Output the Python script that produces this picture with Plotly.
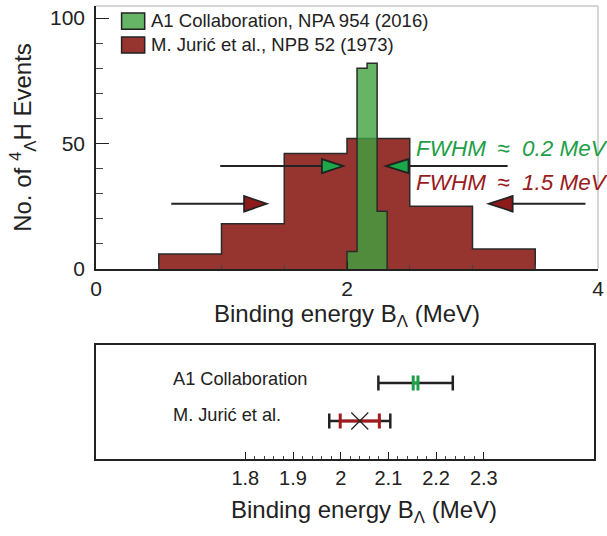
import plotly.graph_objects as go

# ---------------- data ----------------
juric_edges = [0.5, 1.0, 1.5, 2.0, 2.5, 3.0, 3.5]
juric_counts = [6, 18, 46, 52, 25, 8]
a1_edges = [2.0, 2.08, 2.16, 2.24, 2.32]
a1_counts = [7, 80, 82, 23]

legend_labels = ["A1 Collaboration, NPA 954 (2016)", "M. Jurić et al., NPB 52 (1973)"]
fwhm_labels = ["FWHM\u2002≈\u00a0 0.2 MeV", "FWHM\u2002≈\u00a0 1.5 MeV"]

result_names = ["A1 Collaboration", "M. Jurić et al."]
result_rows = [2, 1]
result_values = [2.157, 2.04]
result_stat = [0.005, 0.041]
result_total = [0.078, 0.064]

bottom_ticks = [1.8, 1.9, 2.0, 2.1, 2.2, 2.3]
bottom_tick_text = ["1.8", "1.9", "2", "2.1", "2.2", "2.3"]
bottom_minor = [round(1.8 + 0.02 * i, 2) for i in range(26) if i % 5 != 0]

# arrows: (line start, triangle base, triangle tip, y)
green_arrows = [(0.99, 1.80, 1.97, 41), (3.28, 2.49, 2.31, 41)]
red_arrows = [(0.60, 1.18, 1.36, 26), (3.90, 3.32, 3.13, 26)]

RED = "#963430"
GREEN_FILL = "rgba(64,161,64,0.8)"
EDGE = "#2a2a2a"
GREEN_TXT = "#1f9e48"
RED_TXT = "#991b1e"
FONT = "Liberation Sans, Arial, sans-serif"


def step_xy(edges, counts):
    x = [edges[0]] + list(edges)
    y = [0] + list(counts) + [0]
    return x, y


fig = go.Figure()

xr, yr = step_xy(juric_edges, juric_counts)
fig.add_trace(go.Scatter(x=xr, y=yr, mode="lines", line=dict(shape="hv", color=EDGE, width=1.5),
                         fill="tozeroy", fillcolor=RED, showlegend=False, xaxis="x", yaxis="y"))
xg, yg = step_xy(a1_edges, a1_counts)
fig.add_trace(go.Scatter(x=xg, y=yg, mode="lines", line=dict(shape="hv", color=EDGE, width=1.5),
                         fill="tozeroy", fillcolor=GREEN_FILL, showlegend=False, xaxis="x", yaxis="y"))

# bottom panel: total (black) then stat (colored)
for name, row, v, st, tot, col in zip(result_names, result_rows, result_values, result_stat,
                                      result_total, [GREEN_TXT, "#a3191c"]):
    fig.add_trace(go.Scatter(x=[v], y=[row], mode="markers", marker=dict(size=1, color="rgba(0,0,0,0)"),
                             error_x=dict(type="data", array=[tot], color="#222222", thickness=2.5, width=7.5),
                             showlegend=False, xaxis="x2", yaxis="y2"))
    fig.add_trace(go.Scatter(x=[v], y=[row], mode="markers", marker=dict(size=1, color="rgba(0,0,0,0)"),
                             error_x=dict(type="data", array=[st], color=col, thickness=3, width=7.5),
                             showlegend=False, xaxis="x2", yaxis="y2"))
fig.add_trace(go.Scatter(x=[result_values[1]], y=[result_rows[1]], mode="markers",
                         marker=dict(symbol="x-thin", size=17, line=dict(width=1.2, color="#222222")),
                         showlegend=False, xaxis="x2", yaxis="y2"))

shapes = []
# light frame top/right of upper plot
shapes.append(dict(type="line", xref="x domain", yref="y domain", x0=0, x1=1, y0=1, y1=1,
                   line=dict(color="#c8c8c8", width=1.5)))
shapes.append(dict(type="line", xref="x domain", yref="y domain", x0=1, x1=1, y0=0, y1=1,
                   line=dict(color="#c8c8c8", width=1.5)))

# arrows
for arrows, col, half in [(green_arrows, "#1aa84a", 2.8), (red_arrows, "#8e1a1c", 3.1)]:
    for start, base, tip, y in arrows:
        shapes.append(dict(type="line", xref="x", yref="y", x0=start, x1=base, y0=y, y1=y,
                           line=dict(color="#222222", width=2)))
        shapes.append(dict(type="path", xref="x", yref="y",
                           path=f"M{base},{y - half} L{tip},{y} L{base},{y + half} Z",
                           fillcolor=col, line=dict(color="#222222", width=1.8)))

# manual legend swatches
shapes.append(dict(type="rect", xref="x domain", yref="y domain", x0=0.051, x1=0.097, y0=0.912, y1=0.973,
                   fillcolor="#66b566", line=dict(color="#222222", width=1.5)))
shapes.append(dict(type="rect", xref="x domain", yref="y domain", x0=0.051, x1=0.097, y0=0.821, y1=0.882,
                   fillcolor=RED, line=dict(color="#222222", width=1.5)))

annotations = []
for lab, yy in zip(legend_labels, [0.943, 0.852]):
    annotations.append(dict(text=lab, xref="x domain", yref="y domain", x=0.106, y=yy, xanchor="left",
                            yanchor="middle", showarrow=False, font=dict(size=18.5, color="#222222", family=FONT)))
annotations.append(dict(text="<i>" + fwhm_labels[0] + "</i>", xref="x", yref="y", x=2.53, y=48.2,
                        xanchor="left", yanchor="middle", showarrow=False,
                        font=dict(size=22.5, color=GREEN_TXT, family=FONT)))
annotations.append(dict(text="<i>" + fwhm_labels[1] + "</i>", xref="x", yref="y", x=2.53, y=34.3,
                        xanchor="left", yanchor="middle", showarrow=False,
                        font=dict(size=22.5, color=RED_TXT, family=FONT)))
for name, row, sh in zip(result_names, result_rows, [4, 6]):
    annotations.append(dict(text=name, xref="x2", yref="y2", x=1.644, y=row, yshift=sh, xanchor="left",
                            yanchor="middle", showarrow=False, font=dict(size=18.2, color="#222222", family=FONT)))
annotations.append(dict(text="Binding energy B<sub>Λ</sub> (MeV)", xref="paper", yref="paper", x=0.533, y=-0.115,
                        xanchor="center", yanchor="middle", showarrow=False,
                        font=dict(size=24, color="#222222", family=FONT)))

fig.update_layout(
    width=607, height=536,
    margin=dict(l=96, r=3, t=6, b=77),
    paper_bgcolor="white", plot_bgcolor="white",
    font=dict(family=FONT, color="#222222"),
    showlegend=False,
    shapes=shapes, annotations=annotations,
    xaxis=dict(domain=[0, 1], range=[0, 4], anchor="y", showgrid=False, zeroline=False,
               showline=True, linecolor="#222222", linewidth=1.5,
               tickvals=[0, 2, 4], ticktext=["0", "2", "4"], ticks="inside", ticklen=8, tickwidth=1,
               tickcolor="#222222", tickfont=dict(size=21, color="#222222"), ticklabeloverflow="allow",
               minor=dict(dtick=0.5, ticks="inside", ticklen=4, tickcolor="#444444"),
               title=dict(text="Binding energy B<sub>Λ</sub> (MeV)", font=dict(size=24, color="#222222"),
                          standoff=4)),
    yaxis=dict(domain=[0.4194, 1], range=[0, 104.8], anchor="x", showgrid=False, zeroline=False,
               showline=True, linecolor="#222222", linewidth=1.5,
               tickvals=[0, 50, 100], ticks="inside", ticklen=13, tickwidth=1.2, tickcolor="#222222",
               tickfont=dict(size=21, color="#222222"), ticklabelstandoff=5,
               minor=dict(dtick=10, ticks="inside", ticklen=7, tickcolor="#444444"),
               title=dict(text="No. of <sup>4</sup><sub>Λ</sub>H Events", font=dict(size=24, color="#222222"),
                          standoff=12)),
    xaxis2=dict(domain=[0, 0.992], range=[1.487, 2.531], anchor="y2", showgrid=False, zeroline=False,
                showline=True, mirror=True, linecolor="#222222", linewidth=1.5,
                tickvals=bottom_ticks, ticktext=bottom_tick_text, ticks="inside", ticklen=7,
                tickcolor="#222222", tickfont=dict(size=20, color="#222222"),
                minor=dict(tickvals=bottom_minor, ticks="inside", ticklen=3, tickcolor="#444444")),
    yaxis2=dict(domain=[0, 0.2517], range=[0, 3], anchor="x2", showgrid=False, zeroline=False,
                showline=True, mirror=True, linecolor="#222222", linewidth=1.5,
                showticklabels=False, ticks=""),
)

fig.write_html("out.html", config={"displayModeBar": False},
               post_script="document.body.style.margin='0';")
